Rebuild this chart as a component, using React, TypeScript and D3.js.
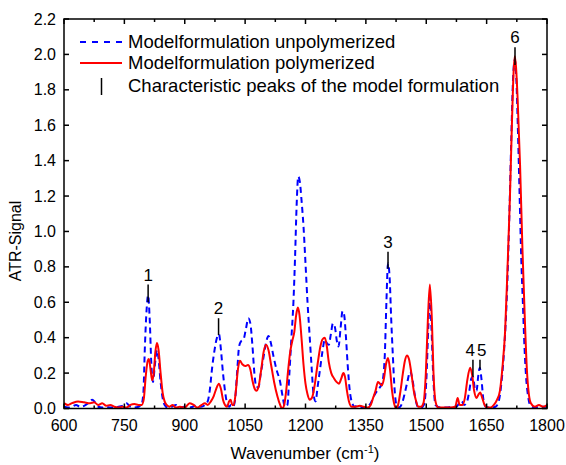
import React from "react";
import * as d3 from "d3";

// Polymerized (red) spectrum: [wavenumber, signal]
const polymerized: [number, number][] = [
  [600, 0.03], [610, 0.02], [620, 0.03], [635, 0.04], [650, 0.035], [665, 0.03], [675, 0.035], [685, 0.02],
  [695, 0.03], [705, 0.015], [715, 0.02], [725, 0.01], [735, 0.005], [745, 0.01], [755, 0.005], [765, 0.02],
  [775, 0.025], [785, 0.02], [793, 0.02], [798, 0.05], [803, 0.18], [808, 0.27], [811, 0.28], [815, 0.22],
  [819, 0.16], [823, 0.2], [827, 0.32], [831, 0.37], [835, 0.33], [840, 0.2], [845, 0.09], [850, 0.04],
  [855, 0.02], [862, 0.01], [870, 0.02], [878, 0.005], [888, 0.01], [900, 0.005], [912, 0.03], [922, 0.02],
  [932, 0.005], [942, 0.02], [950, 0.03], [957, 0.02], [965, 0.04], [972, 0.07], [978, 0.11], [985, 0.14],
  [990, 0.11], [995, 0.05], [1000, 0.02], [1005, 0.01], [1010, 0.04], [1014, 0.05], [1018, 0.02], [1022, 0.02],
  [1027, 0.1], [1032, 0.22], [1037, 0.27], [1043, 0.25], [1050, 0.24], [1057, 0.245], [1063, 0.22], [1068, 0.16],
  [1074, 0.11], [1078, 0.1], [1083, 0.12], [1090, 0.22], [1096, 0.32], [1102, 0.36], [1108, 0.33], [1115, 0.24],
  [1122, 0.15], [1130, 0.07], [1137, 0.02], [1142, 0.0], [1147, 0.02], [1152, 0.1], [1157, 0.22], [1162, 0.32],
  [1167, 0.38], [1172, 0.43], [1177, 0.53], [1181, 0.57], [1185, 0.53], [1190, 0.4], [1195, 0.25], [1200, 0.14],
  [1205, 0.08], [1210, 0.05], [1216, 0.06], [1222, 0.12], [1230, 0.25], [1237, 0.35], [1242, 0.39], [1248, 0.4],
  [1253, 0.35], [1258, 0.26], [1264, 0.2], [1271, 0.17], [1277, 0.15], [1283, 0.14], [1289, 0.17], [1294, 0.2],
  [1298, 0.18], [1303, 0.1], [1308, 0.04], [1315, 0.01], [1325, 0.01], [1335, 0.015], [1345, 0.01], [1355, 0.005],
  [1362, 0.02], [1368, 0.06], [1374, 0.1], [1380, 0.15], [1385, 0.14], [1390, 0.13], [1395, 0.17], [1400, 0.25],
  [1405, 0.285], [1410, 0.22], [1415, 0.1], [1420, 0.03], [1425, 0.0], [1430, 0.02], [1436, 0.1], [1442, 0.2],
  [1447, 0.27], [1452, 0.3], [1457, 0.28], [1463, 0.2], [1469, 0.1], [1475, 0.04], [1480, 0.01], [1487, 0.01],
  [1493, 0.03], [1499, 0.2], [1504, 0.5], [1509, 0.7], [1514, 0.5], [1518, 0.2], [1523, 0.04], [1530, 0.005],
  [1545, 0.005], [1560, 0.005], [1572, 0.01], [1578, 0.06], [1583, 0.02], [1590, 0.02], [1596, 0.06], [1602, 0.16],
  [1609, 0.23], [1614, 0.19], [1619, 0.1], [1625, 0.06], [1630, 0.08], [1634, 0.09], [1639, 0.06], [1645, 0.02],
  [1652, 0.005], [1660, 0.005], [1668, 0.02], [1676, 0.05], [1683, 0.1], [1690, 0.25], [1696, 0.44], [1702, 0.8],
  [1708, 1.2], [1713, 1.62], [1717, 1.9], [1720, 1.99], [1723, 1.93], [1727, 1.75], [1733, 1.38], [1739, 0.9],
  [1745, 0.5], [1750, 0.22], [1755, 0.08], [1760, 0.03], [1770, 0.01], [1780, 0.02], [1790, 0.01], [1800, 0.02],
];

// Unpolymerized (blue dashed) spectrum: [wavenumber, signal]
const unpolymerized: [number, number][] = [
  [600, 0.01], [610, 0.005], [620, 0.01], [630, 0.02], [640, 0.01], [650, 0.015], [660, 0.03], [670, 0.05],
  [677, 0.035], [685, 0.01], [695, 0.005], [705, 0.01], [715, 0.005], [725, 0.005], [735, 0.01], [745, 0.015],
  [755, 0.03], [765, 0.01], [775, 0.005], [785, 0.01], [792, 0.02], [797, 0.08], [801, 0.35], [805, 0.55],
  [809, 0.64], [813, 0.5], [817, 0.25], [821, 0.15], [826, 0.25], [831, 0.33], [835, 0.28], [840, 0.15],
  [845, 0.06], [850, 0.02], [858, 0.005], [868, 0.01], [878, 0.02], [888, 0.005], [898, 0.01], [910, 0.005],
  [920, 0.01], [930, 0.02], [940, 0.01], [950, 0.02], [957, 0.04], [962, 0.1], [968, 0.23], [974, 0.33],
  [980, 0.4], [985, 0.42], [990, 0.33], [995, 0.2], [1000, 0.1], [1005, 0.03], [1010, 0.01], [1015, 0.02],
  [1020, 0.01], [1025, 0.05], [1030, 0.2], [1035, 0.35], [1040, 0.38], [1046, 0.39], [1052, 0.45], [1058, 0.51],
  [1063, 0.48], [1068, 0.36], [1073, 0.2], [1078, 0.12], [1083, 0.12], [1089, 0.2], [1095, 0.28], [1101, 0.36],
  [1108, 0.41], [1114, 0.37], [1120, 0.3], [1128, 0.22], [1137, 0.15], [1143, 0.07], [1149, 0.01], [1155, 0.02],
  [1160, 0.2], [1165, 0.4], [1170, 0.6], [1174, 0.85], [1178, 1.15], [1182, 1.31], [1186, 1.28], [1190, 1.18],
  [1195, 1.03], [1200, 0.82], [1205, 0.6], [1210, 0.42], [1215, 0.24], [1220, 0.08], [1225, 0.04], [1230, 0.12],
  [1236, 0.22], [1242, 0.32], [1248, 0.39], [1253, 0.37], [1258, 0.36], [1263, 0.42], [1268, 0.48], [1273, 0.46],
  [1278, 0.38], [1282, 0.35], [1287, 0.45], [1292, 0.55], [1296, 0.53], [1300, 0.42], [1305, 0.24], [1310, 0.1],
  [1316, 0.03], [1322, 0.01], [1332, 0.02], [1342, 0.005], [1352, 0.01], [1362, 0.03], [1370, 0.07], [1378, 0.1],
  [1385, 0.12], [1391, 0.15], [1397, 0.3], [1401, 0.6], [1405, 0.82], [1409, 0.74], [1413, 0.5], [1417, 0.3],
  [1421, 0.12], [1426, 0.02], [1432, 0.005], [1440, 0.03], [1447, 0.09], [1453, 0.15], [1460, 0.21], [1466, 0.16],
  [1472, 0.07], [1479, 0.01], [1487, 0.005], [1494, 0.02], [1500, 0.15], [1505, 0.45], [1509, 0.63], [1513, 0.45],
  [1518, 0.15], [1523, 0.02], [1535, 0.005], [1550, 0.005], [1565, 0.01], [1575, 0.01], [1582, 0.03], [1588, 0.04],
  [1594, 0.02], [1600, 0.03], [1607, 0.1], [1612, 0.17], [1616, 0.18], [1621, 0.11], [1625, 0.1], [1629, 0.18],
  [1633, 0.23], [1637, 0.17], [1642, 0.05], [1648, 0.01], [1660, 0.005], [1672, 0.01], [1680, 0.04], [1687, 0.15],
  [1694, 0.35], [1700, 0.62], [1706, 1.05], [1711, 1.5], [1716, 1.88], [1720, 1.97], [1724, 1.85], [1728, 1.55],
  [1732, 1.2], [1736, 0.85], [1740, 0.6], [1744, 0.35], [1748, 0.18], [1753, 0.07], [1758, 0.02], [1770, 0.005],
  [1785, 0.01], [1800, 0.01],
];

// Characteristic peak markers
const markerLabels = ["1", "2", "3", "4", "5", "6"];
const markerWn = [809, 984, 1405, 1616, 1633.5, 1720.5];
const markerLabelWn = [809, 984, 1405, 1609, 1638, 1720.5];
const markerTop = [0.7, 0.51, 0.885, 0.275, 0.275, 2.04];
const markerBottom = [0.6, 0.415, 0.79, 0.18, 0.22, 1.94];

const xMajorTicks = [600, 750, 900, 1050, 1200, 1350, 1500, 1650, 1800];
const xMinorTicks = [675, 825, 975, 1125, 1275, 1425, 1575, 1725];
const yTicks = [0, 0.2, 0.4, 0.6, 0.8, 1.0, 1.2, 1.4, 1.6, 1.8, 2.0, 2.2];

const legendLabels = [
  "Modelformulation unpolymerized",
  "Modelformulation polymerized",
  "Characteristic peaks of the model formulation",
];

const W = 566;
const H = 465;
const left = 64;
const right = 547;
const top = 19;
const bottom = 408.5;
const FONT = "'Liberation Sans', Arial, sans-serif";

export default function App() {
  const x = d3.scaleLinear().domain([600, 1800]).range([left, right]);
  const y = d3.scaleLinear().domain([0, 2.2]).range([bottom, top]);
  const line = d3
    .line<[number, number]>()
    .x((d) => x(d[0]))
    .y((d) => y(d[1]))
    .curve(d3.curveMonotoneX);

  const major = 5;
  const minor = 3;

  return (
    <svg
      width={W}
      height={H}
      style={{ position: "absolute", left: 0, top: 0, background: "#fff" }}
      fontFamily={FONT}
    >
      <rect x={0} y={0} width={W} height={H} fill="#fff" />
      <defs>
        <clipPath id="plot">
          <rect x={left} y={top} width={right - left} height={bottom - top} />
        </clipPath>
      </defs>

      <g clipPath="url(#plot)">
        <path
          d={line(unpolymerized) || ""}
          fill="none"
          stroke="#0000ff"
          strokeWidth={2}
          strokeDasharray="6,4"
        />
        <path d={line(polymerized) || ""} fill="none" stroke="#ff0000" strokeWidth={2} />
      </g>

      {/* peak markers */}
      {markerLabels.map((lab, i) => (
        <g key={lab}>
          <line
            x1={x(markerWn[i])}
            x2={x(markerWn[i])}
            y1={y(markerTop[i])}
            y2={y(markerBottom[i])}
            stroke="#000"
            strokeWidth={1.5}
          />
          <text
            x={x(markerLabelWn[i])}
            y={y(markerTop[i]) - 4}
            textAnchor="middle"
            fontSize={17}
            fill="#000"
          >
            {lab}
          </text>
        </g>
      ))}

      {/* frame */}
      <rect
        x={left}
        y={top}
        width={right - left}
        height={bottom - top}
        fill="none"
        stroke="#000"
        strokeWidth={1.5}
      />

      {/* x ticks */}
      {xMajorTicks.map((t) => (
        <g key={"xm" + t}>
          <line x1={x(t)} x2={x(t)} y1={bottom} y2={bottom - major} stroke="#000" strokeWidth={1.5} />
          <line x1={x(t)} x2={x(t)} y1={top} y2={top + major} stroke="#000" strokeWidth={1.5} />
          <text x={x(t)} y={431} textAnchor="middle" fontSize={16} fill="#000">
            {t}
          </text>
        </g>
      ))}
      {xMinorTicks.map((t) => (
        <g key={"xn" + t}>
          <line x1={x(t)} x2={x(t)} y1={bottom} y2={bottom - minor} stroke="#000" strokeWidth={1.5} />
          <line x1={x(t)} x2={x(t)} y1={top} y2={top + minor} stroke="#000" strokeWidth={1.5} />
        </g>
      ))}

      {/* y ticks */}
      {yTicks.map((t) => (
        <g key={"y" + t}>
          <line x1={left} x2={left + major} y1={y(t)} y2={y(t)} stroke="#000" strokeWidth={1.5} />
          <line x1={right} x2={right - major} y1={y(t)} y2={y(t)} stroke="#000" strokeWidth={1.5} />
          <text
            x={56}
            y={y(t)}
            dy="0.35em"
            textAnchor="end"
            fontSize={16}
            fill="#000"
          >
            {t.toFixed(1)}
          </text>
        </g>
      ))}

      {/* axis titles */}
      <text x={305} y={459} textAnchor="middle" fontSize={17} fill="#000">
        Wavenumber (cm
        <tspan dy={-6} fontSize={11}>
          -1
        </tspan>
        <tspan dy={6}>)</tspan>
      </text>
      <text
        transform={`translate(21,${241}) rotate(-90)`}
        textAnchor="middle"
        fontSize={16}
        fill="#000"
      >
        ATR-Signal
      </text>

      {/* legend */}
      <line x1={80} x2={122} y1={42} y2={42} stroke="#0000ff" strokeWidth={2} strokeDasharray="6,6" />
      <line x1={80} x2={122} y1={63} y2={63} stroke="#ff0000" strokeWidth={2} />
      <line x1={101.5} x2={101.5} y1={78} y2={95} stroke="#000" strokeWidth={1.5} />
      {legendLabels.map((l, i) => (
        <text key={l} x={128} y={[48, 69, 92][i]} fontSize={18.5} fill="#000">
          {l}
        </text>
      ))}
    </svg>
  );
}
